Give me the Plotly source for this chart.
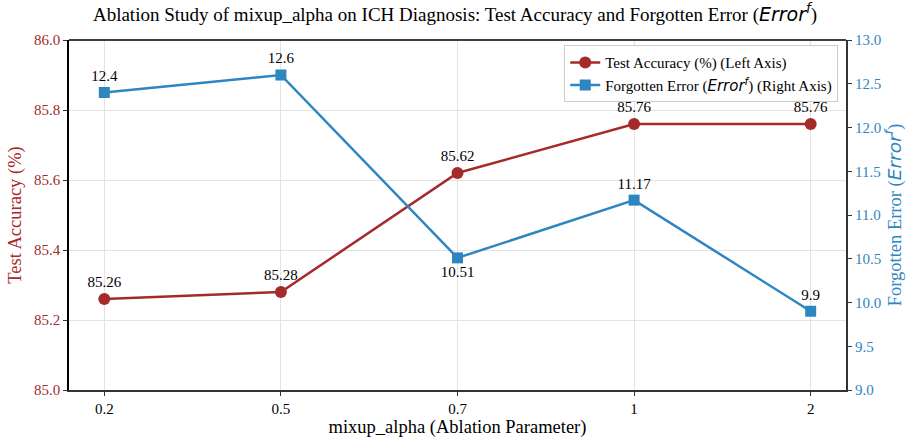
import plotly.graph_objects as go

categories = ["0.2", "0.5", "0.7", "1", "2"]
test_accuracy = [85.26, 85.28, 85.62, 85.76, 85.76]
forgotten_error = [12.4, 12.6, 10.51, 11.17, 9.9]
err_label_pos = ["top center", "top center", "bottom center", "top center", "top center"]

RED = "#a52a2a"
BLUE = "#2e86c1"
FONT = "Liberation Serif, Times New Roman, serif"
ERR = '<span style="font-family:DejaVu Sans"><i>Error</i><sup><i>f</i></sup></span>'

fig = go.Figure()
fig.add_trace(go.Scatter(
    x=categories, y=test_accuracy, mode="lines+markers+text",
    name="Test Accuracy (%) (Left Axis)",
    line=dict(color=RED, width=2.5), marker=dict(symbol="circle", size=12, color=RED),
    text=[f"{v:g}" for v in test_accuracy], textposition="top center",
    textfont=dict(size=15, color="black", family=FONT),
    yaxis="y", cliponaxis=False,
))
fig.add_trace(go.Scatter(
    x=categories, y=forgotten_error, mode="lines+markers+text",
    name=f"Forgotten Error ({ERR}) (Right Axis)",
    line=dict(color=BLUE, width=2.5), marker=dict(symbol="square", size=11, color=BLUE),
    text=[f"{v:g}" for v in forgotten_error], textposition=err_label_pos,
    textfont=dict(size=15, color="black", family=FONT),
    yaxis="y2", cliponaxis=False,
))

fig.update_layout(
    width=910, height=445,
    margin=dict(l=69, r=64, t=40, b=55),
    paper_bgcolor="white", plot_bgcolor="white",
    font=dict(family=FONT, size=15, color="black"),
    title=dict(text=f"Ablation Study of mixup_alpha on ICH Diagnosis: Test Accuracy and Forgotten Error ({ERR})",
               x=0.5, xanchor="center", y=0.968, yanchor="middle",
               font=dict(size=19, color="black", family=FONT)),
    xaxis=dict(
        type="category", range=[-0.2, 4.2], automargin=False,
        showgrid=True, gridcolor="#e3e3e3", gridwidth=1,
        showline=True, linecolor="#333", linewidth=2, mirror=False,
        ticks="outside", ticklen=4, tickcolor="#333",
        tickfont=dict(size=15, color="black", family=FONT),
        title=dict(text="mixup_alpha (Ablation Parameter)", font=dict(size=18.5, color="black", family=FONT), standoff=2),
        zeroline=False,
    ),
    yaxis=dict(
        range=[85.0, 86.0], dtick=0.2, tickformat=".1f", automargin=False,
        showgrid=True, gridcolor="#e3e3e3", gridwidth=1,
        showline=True, linecolor="black", linewidth=1.5,
        ticks="outside", ticklen=4, tickcolor="#333",
        tickfont=dict(size=15, color=RED, family=FONT),
        title=dict(text="Test Accuracy (%)", font=dict(size=18.5, color=RED, family=FONT), standoff=8),
        zeroline=False,
    ),
    yaxis2=dict(
        range=[9.0, 13.0], dtick=0.5, tickformat=".1f", automargin=False,
        overlaying="y", side="right", showgrid=False,
        showline=True, linecolor="#333", linewidth=2,
        ticks="outside", ticklen=4, tickcolor="#333",
        tickfont=dict(size=15, color=BLUE, family=FONT),
        title=dict(text=f"Forgotten Error ({ERR})", font=dict(size=18.5, color=BLUE, family=FONT), standoff=8),
        zeroline=False,
    ),
    legend=dict(
        x=0.99, y=0.985, xanchor="right", yanchor="top",
        bgcolor="rgba(255,255,255,0.9)", bordercolor="#cccccc", borderwidth=1,
        font=dict(size=15, family=FONT), itemwidth=30, tracegroupgap=0,
    ),
    showlegend=True,
)
# top border line
fig.add_shape(type="line", xref="paper", yref="paper", x0=0, x1=1, y0=1, y1=1,
              line=dict(color="black", width=1.5))

fig.write_html("out.html", config={"displayModeBar": False},
               post_script="document.body.style.margin='0';")
